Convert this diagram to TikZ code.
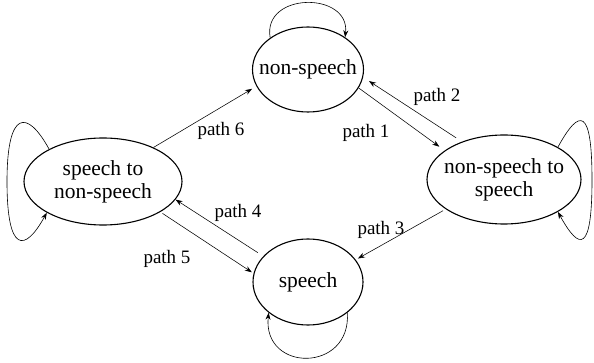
\documentclass[tikz,border=0pt]{standalone}
\usepackage{fontspec}
\setmainfont{Liberation Serif}
\newfontfamily\labelserif{Liberation Serif}
\usetikzlibrary{arrows.meta,shapes.geometric}
\tikzset{
  statebox/.style={ellipse, draw, line width=1.1pt, inner sep=0pt},
  statetext/.style={font=\labelserif\fontsize{21.5}{22.7}\selectfont, align=center, inner sep=0pt},
  pathlabel/.style={font=\labelserif\fontsize{19}{22}\selectfont, inner sep=0pt},
  trans/.style={line width=0.55pt, -{Stealth[length=7pt,width=5pt]}},
  selfloop/.style={line width=0.6pt},
}
\begin{document}
\begin{tikzpicture}[x=1pt,y=-1pt]
\useasboundingbox (0,0) rectangle (594,363);

% states
\node[statebox, minimum width=111pt, minimum height=85pt] (ns)  at (308,69.5)  {};
\node[statebox, minimum width=158pt, minimum height=87pt] (stn) at (103,181.5) {};
\node[statebox, minimum width=154pt, minimum height=89pt] (nts) at (504,179.5) {};
\node[statebox, minimum width=110pt, minimum height=86pt] (sp)  at (308,282)   {};

\node[statetext] (ns-t)  at (ns)  {non-speech};
\node[statetext] (stn-t) at (stn) {speech to\\non-speech};
\node[statetext] (nts-t) at (nts) {non-speech to\\speech};
\node[statetext] (sp-t)  at (sp)  {speech};

% transitions between states
\draw[trans, shorten >=6.5pt] (ns.-20) -- (nts.154);
\draw[trans, shorten <=7pt, shorten >=7pt] (nts.138) -- (ns.-8);
\draw[trans, shorten <=3pt, shorten >=2.5pt] (nts.207) -- (sp.25);
\draw[trans, shorten <=6.5pt] (sp.150) -- (stn.-14);
\draw[trans, shorten <=2.5pt, shorten >=2pt] (stn.-28) -- (sp.171);
\draw[trans, shorten >=5pt] (stn.34) -- (ns.198);

% self loops
\coordinate (stn-far) at (7,181.5);
\coordinate (nts-far) at (592,180);
\draw[selfloop, ->, >={Stealth[length=7pt,width=5pt]}]
  (ns.140) .. controls +(-8,-46) and +(5,-46) .. (ns.41);
\draw[selfloop, ->, >={Stealth[length=7pt,width=5pt]}]
  (sp.-38) .. controls +(4,60) and +(-6,60) .. (sp.218);
\draw[selfloop, ->, >={Stealth[length=7pt,width=5pt]}]
  (stn.149) .. controls +(-22,-40) and +(0,-72) .. (stn-far)
            .. controls +(0,72) and +(-22,40) .. (stn.209);
\draw[selfloop, ->, >={Stealth[length=7pt,width=5pt]}]
  (nts.31) .. controls +(22,-40) and +(0,-72) .. (nts-far)
           .. controls +(0,72) and +(22,40) .. (nts.-31);

% transition labels
\node[pathlabel] (lab1) at (366,133) {path 1};
\node[pathlabel] (lab2) at (437,97)  {path 2};
\node[pathlabel] (lab3) at (381,230) {path 3};
\node[pathlabel] (lab4) at (238,213) {path 4};
\node[pathlabel] (lab5) at (167,259) {path 5};
\node[pathlabel] (lab6) at (221,131) {path 6};
\end{tikzpicture}
\end{document}
